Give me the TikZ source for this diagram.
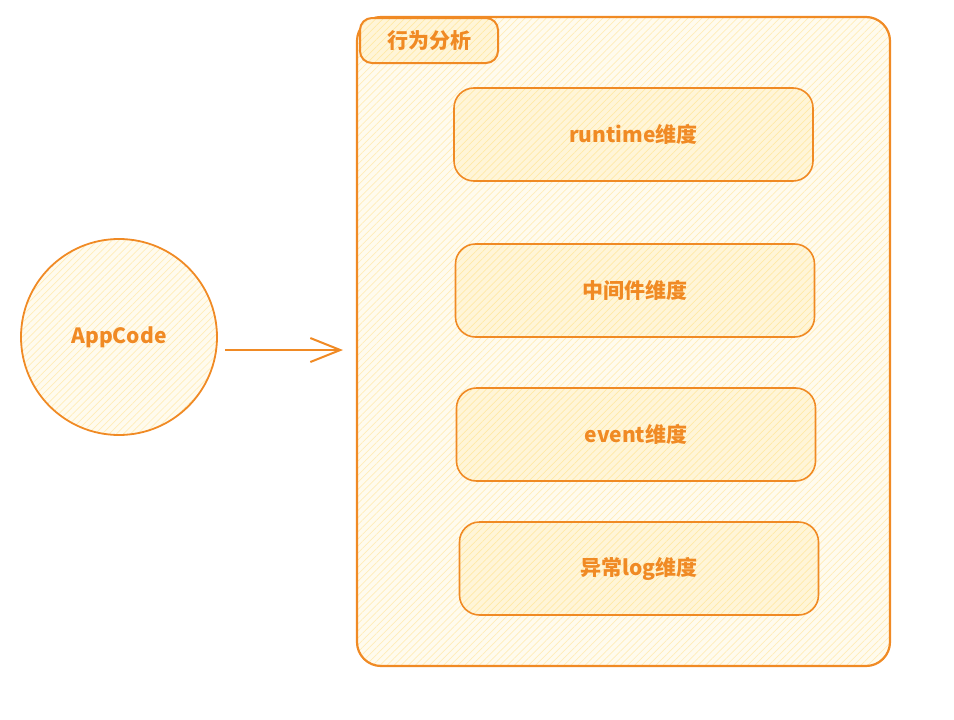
\documentclass[tikz,border=0pt]{standalone}
\usepackage{fontspec}
\setmainfont{Noto Sans CJK SC}
\usetikzlibrary{patterns.meta,arrows.meta}
\definecolor{orng}{HTML}{F08A24}
\definecolor{pale}{HTML}{FFFBEE}
\definecolor{hatch}{HTML}{FFEDB8}
\definecolor{palebox}{HTML}{FFF5D8}
\definecolor{boxhatch}{HTML}{FFE9A6}
\begin{document}
\begin{tikzpicture}[x=1pt,y=-1pt,
  hatched/.style={preaction={fill=pale},pattern={Lines[angle=45,distance=5pt,line width=0.7pt]},pattern color=hatch},
  boxhatched/.style={preaction={fill=palebox},pattern={Lines[angle=45,distance=5pt,line width=0.7pt]},pattern color=boxhatch},
  lbl/.style={text=orng,font=\fontsize{21}{25}\selectfont\bfseries},
  container/.style={draw=orng,line width=2.2pt,rounded corners=24pt,hatched,inner sep=0pt},
  titlebox/.style={draw=orng,line width=2pt,rounded corners=12pt,boxhatched,minimum width=138pt,minimum height=45pt,inner sep=0pt,lbl},
  dimbox/.style={draw=orng,line width=1.6pt,rounded corners=20pt,boxhatched,minimum width=359pt,minimum height=93pt,inner sep=0pt,lbl},
  appcircle/.style={circle,draw=orng,line width=1.8pt,hatched,minimum size=196pt,inner sep=0pt,lbl},
  arr/.style={draw=orng,line width=2pt,-{Straight Barb[length=30pt,width=24pt,line width=2pt]}}
]
\useasboundingbox (0,0) rectangle (954,720);
\node[container,minimum width=533pt,minimum height=649pt] (main) at (623.5,341.5) {};
\node[titlebox] (title) at (429,40.5) {行为分析};
\node[dimbox] (b1) at (633.5,134.5) {runtime维度};
\node[dimbox] (b2) at (635,290.5) {中间件维度};
\node[dimbox] (b3) at (636,434.5) {event维度};
\node[dimbox] (b4) at (639,568.5) {异常log维度};
\node[appcircle] (app) at (119,337) {AppCode};
\coordinate (aend) at (343,350);
\draw[arr] ([xshift=7pt]app.east |- aend) -- (aend);
\end{tikzpicture}
\end{document}
